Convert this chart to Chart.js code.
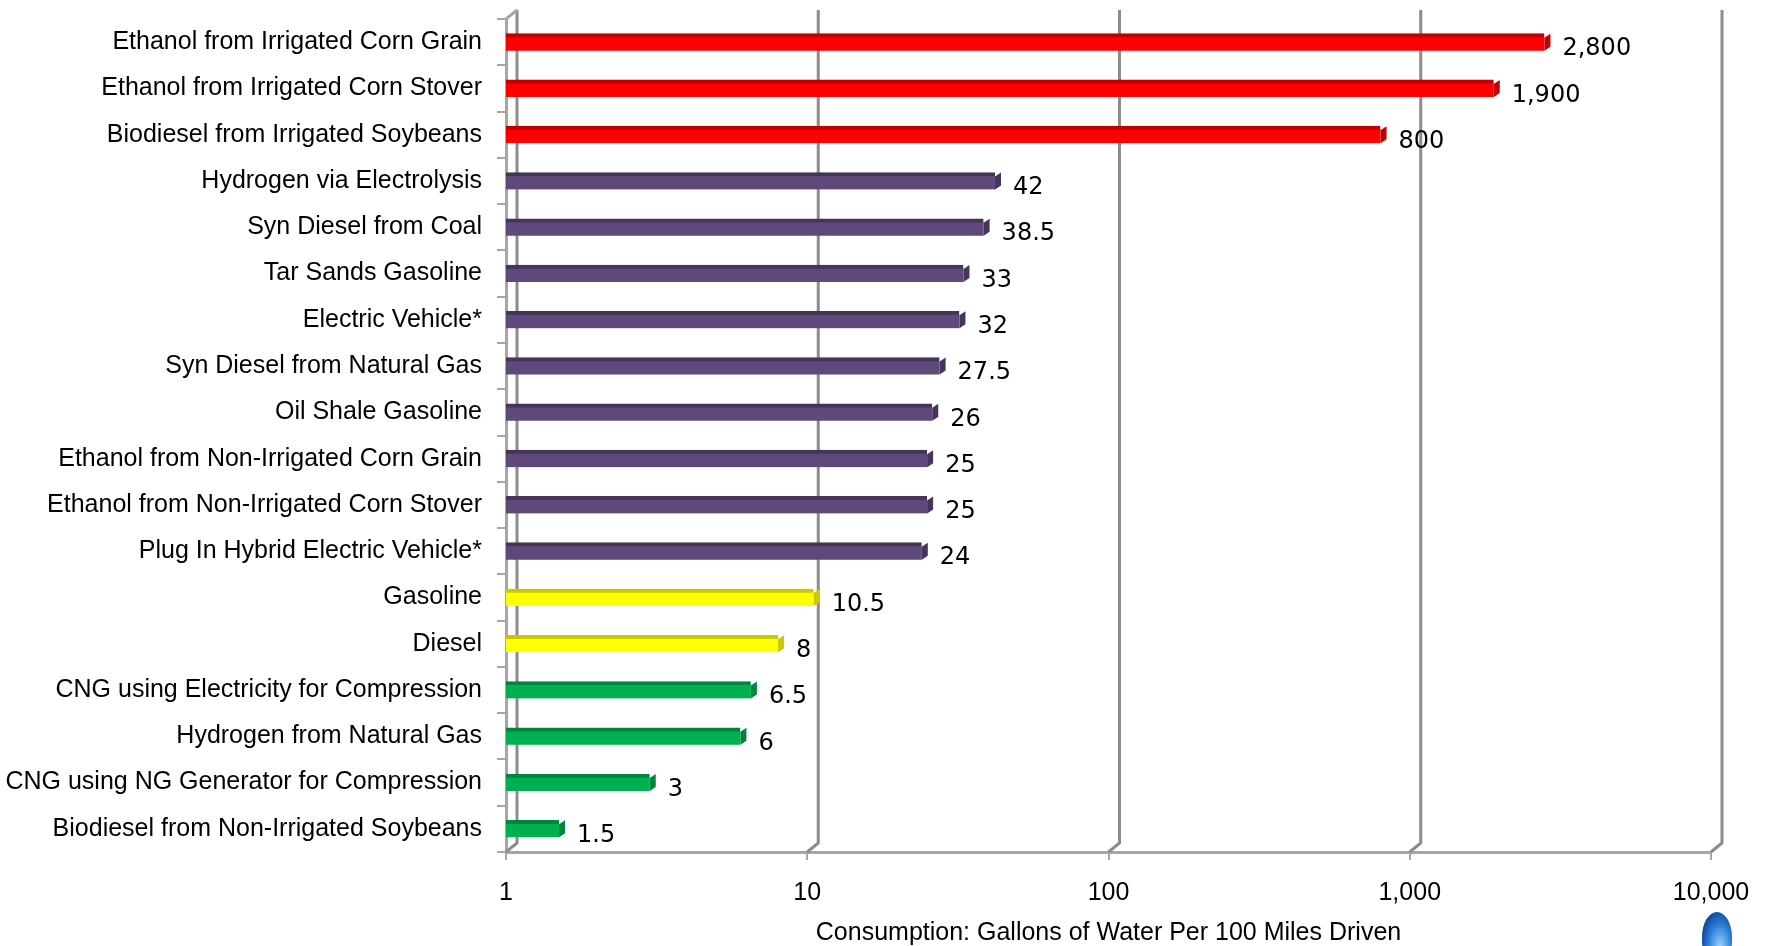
<!DOCTYPE html>
<html>
<head>
<meta charset="utf-8">
<title>Water consumption by fuel</title>
<script src="https://cdn.jsdelivr.net/npm/chart.js@4.4.1/dist/chart.umd.min.js"></script>
<style>
  html, body { margin: 0; padding: 0; background: #fff; }
  #wrap { position: relative; width: 1768px; height: 946px; overflow: hidden; }
  #logo {
    position: absolute; left: 1702px; top: 912px; width: 30px; height: 50px;
    border-radius: 50% 50% 40% 40%;
    background: radial-gradient(ellipse at 60% 70%, #9fd3ff 0%, #2b7fd8 45%, #0b3f8f 80%);
  }
</style>
</head>
<body>
<div id="wrap">
  <canvas id="waterChart" width="1768" height="946"></canvas>
  <div id="logo"></div>
</div>
<script>
// data
const categories = [
  'Ethanol from Irrigated Corn Grain',
  'Ethanol from Irrigated Corn Stover',
  'Biodiesel from Irrigated Soybeans',
  'Hydrogen via Electrolysis',
  'Syn Diesel from Coal',
  'Tar Sands Gasoline',
  'Electric Vehicle*',
  'Syn Diesel from Natural Gas',
  'Oil Shale Gasoline',
  'Ethanol from Non-Irrigated Corn Grain',
  'Ethanol from Non-Irrigated Corn Stover',
  'Plug In Hybrid Electric Vehicle*',
  'Gasoline',
  'Diesel',
  'CNG using Electricity for Compression',
  'Hydrogen from Natural Gas',
  'CNG using NG Generator for Compression',
  'Biodiesel from Non-Irrigated Soybeans'
];
const gallonsPer100Miles = [2800, 1900, 800, 42, 38.5, 33, 32, 27.5, 26, 25, 25, 24, 10.5, 8, 6.5, 6, 3, 1.5];
const fuelGroup = [
  'irrigated', 'irrigated', 'irrigated',
  'high', 'high', 'high', 'high', 'high', 'high', 'high', 'high', 'high',
  'petroleum', 'petroleum',
  'low', 'low', 'low', 'low'
];
const xTickValues = [1, 10, 100, 1000, 10000];
const xTitle = 'Consumption: Gallons of Water Per 100 Miles Driven';

const groupFront = { irrigated: '#ff0000', high: '#5f497a', petroleum: '#ffff00', low: '#00b050' };
const groupTop = { irrigated: '#c00000', high: '#45355a', petroleum: '#c9c900', low: '#00863c' };

const labelFont = { family: '"Liberation Sans", Arial, sans-serif', size: 25 };
const depthX = 11, depthY = 9;

// back wall gridlines, drawn with a small 3D offset like the original
const wallPlugin = {
  id: 'wall3d',
  beforeDatasetsDraw(chart) {
    const { ctx, chartArea } = chart;
    const x = chart.scales.x;
    ctx.save();
    ctx.strokeStyle = '#8c8c8c';
    ctx.lineWidth = 3;
    xTickValues.forEach(v => {
      const px = x.getPixelForValue(v);
      ctx.beginPath();
      ctx.moveTo(px + depthX, chartArea.top - depthY);
      ctx.lineTo(px + depthX, chartArea.bottom - depthY);
      ctx.lineTo(px, chartArea.bottom);
      ctx.stroke();
    });
    ctx.strokeStyle = '#a6a6a6';
    ctx.beginPath();
    ctx.moveTo(chartArea.left, chartArea.top);
    ctx.lineTo(chartArea.left + depthX, chartArea.top - depthY);
    ctx.stroke();
    ctx.restore();
  }
};

// bar end faces + value labels
const barExtras = {
  id: 'barExtras',
  afterDatasetsDraw(chart) {
    const { ctx } = chart;
    const meta = chart.getDatasetMeta(0);
    ctx.save();
    meta.data.forEach((bar, i) => {
      const top = bar.y - bar.height / 2;
      const bot = bar.y + bar.height / 2;
      ctx.fillStyle = groupTop[fuelGroup[i]];
      ctx.beginPath();
      ctx.moveTo(bar.x, top + 4);
      ctx.lineTo(bar.x + 6, top);
      ctx.lineTo(bar.x + 6, bot - 4);
      ctx.lineTo(bar.x, bot);
      ctx.closePath();
      ctx.fill();

      ctx.fillStyle = '#000';
      ctx.font = '24px "DejaVu Sans", sans-serif';
      ctx.textAlign = 'left';
      ctx.textBaseline = 'middle';
      ctx.fillText(gallonsPer100Miles[i].toLocaleString('en-US'), bar.x + 18, bar.y + 7);
    });
    ctx.restore();
  }
};

new Chart(document.getElementById('waterChart'), {
  type: 'bar',
  data: {
    labels: categories,
    datasets: [{
      data: gallonsPer100Miles,
      backgroundColor: fuelGroup.map(g => groupFront[g]),
      borderColor: fuelGroup.map(g => groupTop[g]),
      borderWidth: { top: 4, right: 0, bottom: 0, left: 0 },
      borderSkipped: false,
      barThickness: 17
    }]
  },
  options: {
    indexAxis: 'y',
    responsive: false,
    animation: false,
    layout: { padding: { left: 0, right: 57, top: 19, bottom: 0 } },
    plugins: {
      legend: { display: false },
      tooltip: { enabled: false }
    },
    scales: {
      x: {
        type: 'logarithmic',
        min: 1,
        max: 10000,
        afterBuildTicks: s => { s.ticks = xTickValues.map(v => ({ value: v })); },
        afterFit: s => { s.height = 94; },
        grid: { drawOnChartArea: false, drawTicks: true, tickLength: 8, color: '#a6a6a6', lineWidth: 2 },
        border: { display: true, color: '#a6a6a6', width: 3 },
        ticks: {
          autoSkip: false,
          maxRotation: 0,
          padding: 18,
          color: '#000',
          font: labelFont,
          callback: v => Number(v).toLocaleString('en-US')
        },
        title: {
          display: true,
          text: xTitle,
          color: '#000',
          font: { family: labelFont.family, size: 25, lineHeight: 1 },
          padding: { top: 0, bottom: 0 }
        }
      },
      y: {
        afterFit: s => { s.width = 506; s.paddingTop = 0; s.paddingBottom = 0; },
        grid: { offset: true, drawOnChartArea: false, tickLength: 9, color: '#a6a6a6', lineWidth: 2 },
        border: { display: true, color: '#a6a6a6', width: 3 },
        ticks: { autoSkip: false, padding: 15, color: '#000', font: labelFont }
      }
    }
  },
  plugins: [wallPlugin, barExtras]
});
</script>
</body>
</html>
